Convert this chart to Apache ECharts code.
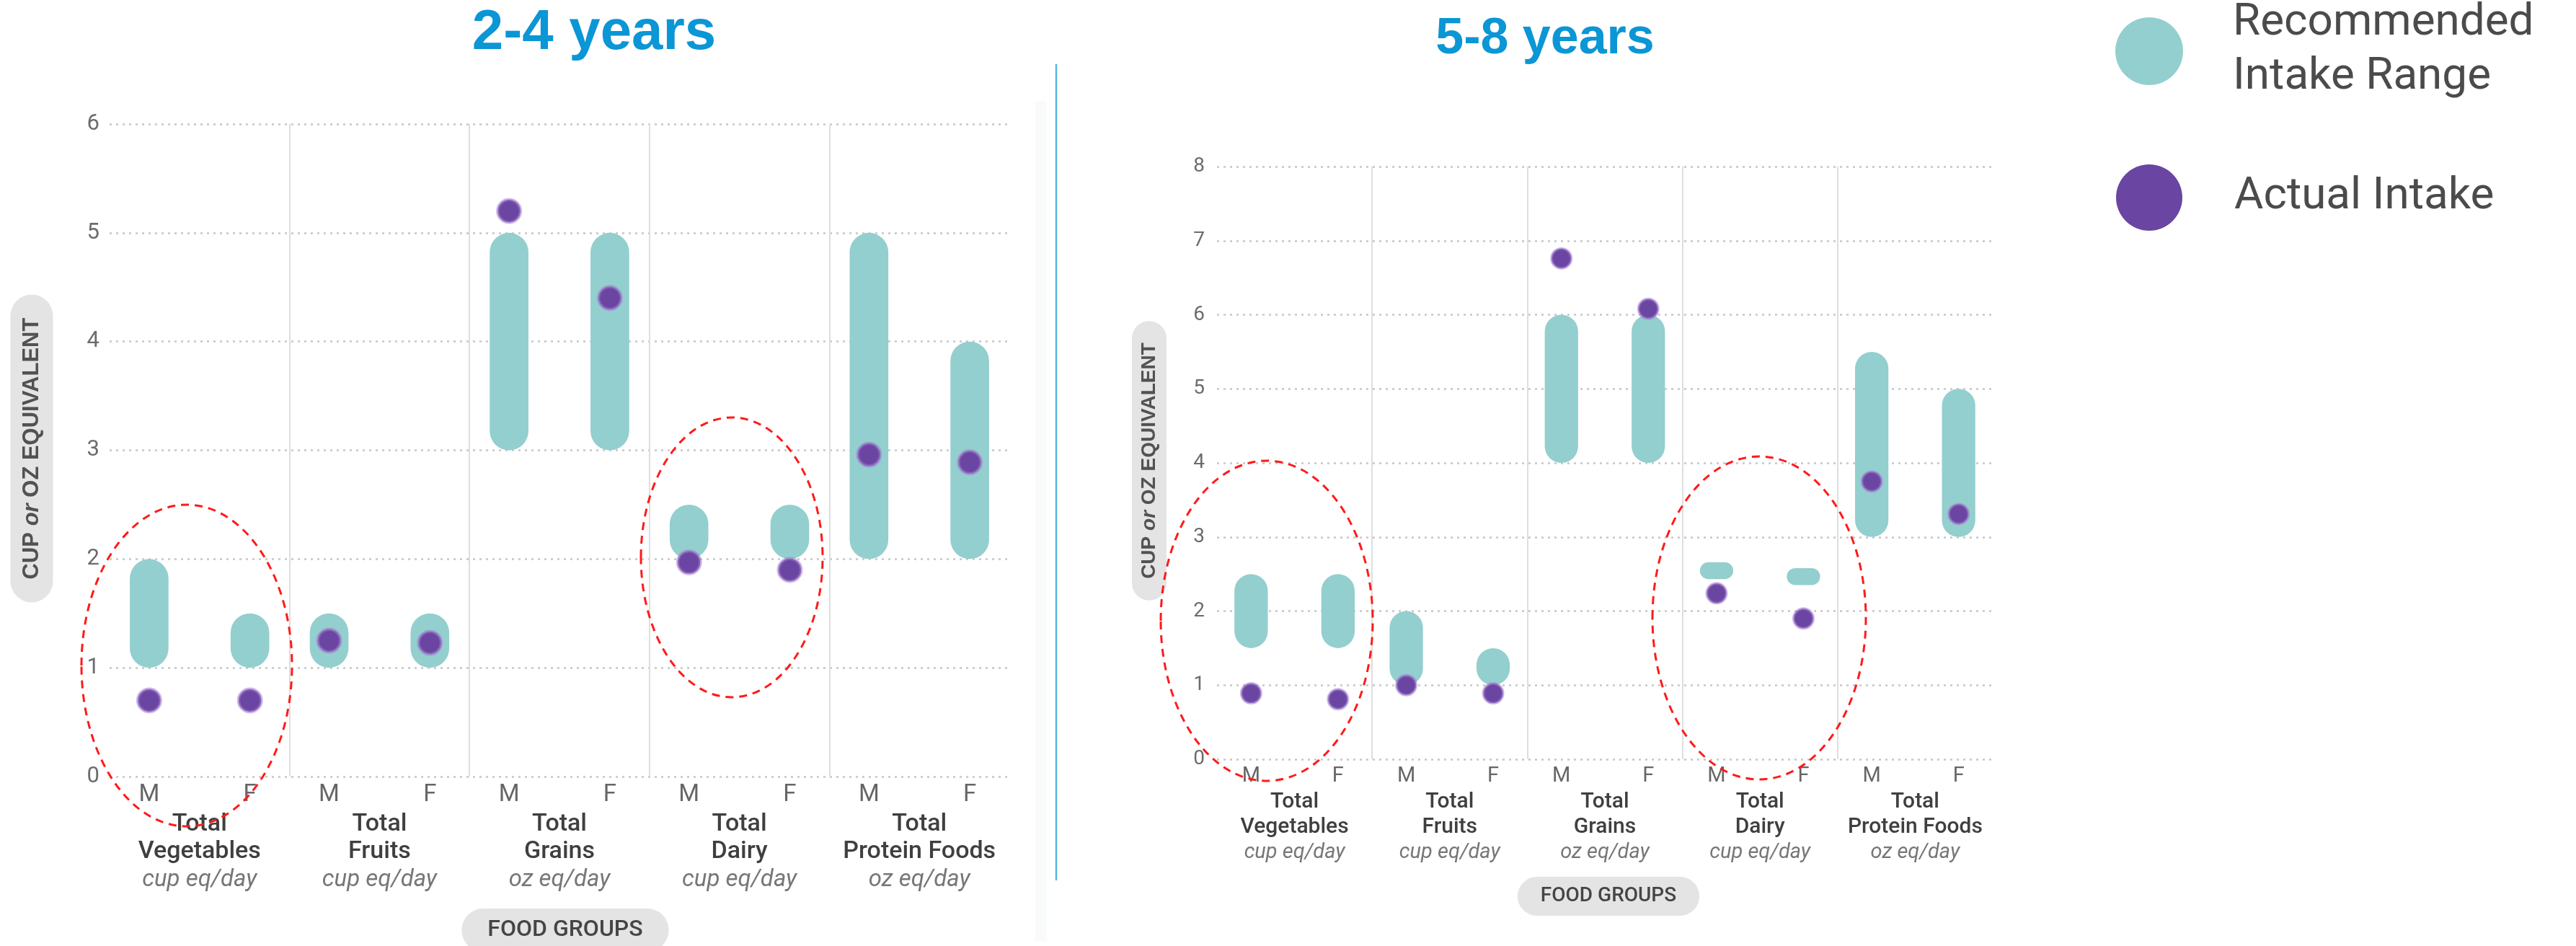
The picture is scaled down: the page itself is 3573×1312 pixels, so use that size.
<!DOCTYPE html>
<html>
<head>
<meta charset="utf-8">
<title>Recommended vs Actual Intake by Food Group</title>
<script src="https://cdn.jsdelivr.net/npm/echarts@6/dist/echarts.min.js"></script>
<style>
  html, body { margin: 0; padding: 0; background: #ffffff; }
  #chart { width: 3573px; height: 1312px; }
</style>
</head>
<body>
<div id="chart"></div>
<script>
// ---- data -------------------------------------------------------------
const foodGroups = ['Total\nVegetables', 'Total\nFruits', 'Total\nGrains', 'Total\nDairy', 'Total\nProtein Foods'];
const units = ['cup eq/day', 'cup eq/day', 'oz eq/day', 'cup eq/day', 'oz eq/day'];
const sexes = ['M', 'F'];

// 2-4 years: recommended range (low/high) and actual intake, per sex
const rec24LowM  = [1.0, 1.0, 3.0, 2.0, 2.0];
const rec24HighM = [2.0, 1.5, 5.0, 2.5, 5.0];
const rec24LowF  = [1.0, 1.0, 3.0, 2.0, 2.0];
const rec24HighF = [1.5, 1.5, 5.0, 2.5, 4.0];
const actual24M  = [0.70, 1.25, 5.20, 1.97, 2.96];
const actual24F  = [0.70, 1.23, 4.40, 1.90, 2.89];

// 5-8 years
const rec58LowM  = [1.5, 1.0, 4.0, 2.43, 3.0];
const rec58HighM = [2.5, 2.0, 6.0, 2.66, 5.5];
const rec58LowF  = [1.5, 1.0, 4.0, 2.35, 3.0];
const rec58HighF = [2.5, 1.5, 6.0, 2.58, 5.0];
const actual58M  = [0.89, 1.00, 6.76, 2.24, 3.75];
const actual58F  = [0.81, 0.89, 6.08, 1.90, 3.31];

const yTicks24 = [0, 1, 2, 3, 4, 5, 6];
const yTicks58 = [0, 1, 2, 3, 4, 5, 6, 7, 8];

// ---- styling ----------------------------------------------------------
const TEAL = '#93cfce';
const PURPLE = '#6a45a1';
const HALO = 'rgba(160, 120, 205, 0.55)';
const SEX_OFFSET = 0.28;   // M / F position from the group centre, in group widths
const BAR_WIDTH = 0.215;   // capsule width, in group widths
const DOT_R = 0.063;       // dot radius, in group widths

const panels = [
  {
    title: '2-4 years', ticks: yTicks24,
    low: [rec24LowM, rec24LowF], high: [rec24HighM, rec24HighF], actual: [actual24M, actual24F],
    grid: { left: 152, top: 172, width: 1248, height: 905 },
    fs: { tick: 31, sex: 33, group: 34, unit: 33, lh: 38.5, tickMargin: 14, sexMargin: 9, groupMargin: 47 }
  },
  {
    title: '5-8 years', ticks: yTicks58,
    low: [rec58LowM, rec58LowF], high: [rec58HighM, rec58HighF], actual: [actual58M, actual58F],
    grid: { left: 1688, top: 231, width: 1076, height: 822 },
    fs: { tick: 28, sex: 29, group: 30, unit: 29, lh: 35, tickMargin: 17, sexMargin: 9, groupMargin: 42 }
  }
];

function rangeRows(p) {
  const rows = [];
  foodGroups.forEach((g, i) => sexes.forEach((s, k) => rows.push([i, k, p.low[k][i], p.high[k][i]])));
  return rows;
}
function dotRows(p) {
  const rows = [];
  foodGroups.forEach((g, i) => sexes.forEach((s, k) => rows.push([i, k, p.actual[k][i]])));
  return rows;
}

function renderRange(params, api) {
  const band = api.size([1, 0])[0];
  const off = (api.value(1) === 0 ? -1 : 1) * band * SEX_OFFSET;
  const top = api.coord([api.value(0), api.value(3)]);
  const bot = api.coord([api.value(0), api.value(2)]);
  const w = band * BAR_WIDTH;
  const h = bot[1] - top[1];
  return {
    type: 'rect',
    shape: { x: top[0] + off - w / 2, y: top[1], width: w, height: h, r: Math.min(w / 2, h / 2) },
    style: { fill: TEAL }
  };
}

function renderDot(params, api) {
  const band = api.size([1, 0])[0];
  const off = (api.value(1) === 0 ? -1 : 1) * band * SEX_OFFSET;
  const c = api.coord([api.value(0), api.value(2)]);
  return {
    type: 'circle',
    shape: { cx: c[0] + off, cy: c[1], r: band * DOT_R },
    style: { fill: PURPLE, stroke: HALO, lineWidth: band * 0.018 }
  };
}

const grids = [], xAxes = [], yAxes = [], series = [];
panels.forEach((p, gi) => {
  grids.push(Object.assign({ containLabel: false }, p.grid));
  const sexPositions = [];
  foodGroups.forEach((g, i) => { sexPositions.push(i + 0.5 - SEX_OFFSET, i + 0.5 + SEX_OFFSET); });

  // food group names under each group
  xAxes.push({
    type: 'category', gridIndex: gi, position: 'bottom', data: foodGroups,
    axisLine: { show: false }, axisTick: { show: false }, splitLine: { show: false },
    axisLabel: {
      interval: 0, margin: p.fs.groupMargin,
      formatter: (v, idx) => v.split('\n').map(l => '{b|' + l + '}').join('\n') + '\n{i|' + units[idx] + '}',
      rich: {
        b: { fontFamily: 'Roboto', fontWeight: 500, fontSize: p.fs.group, color: '#3f3f3f', lineHeight: p.fs.lh },
        i: { fontFamily: 'Roboto', fontStyle: 'italic', fontSize: p.fs.unit, color: '#777777', lineHeight: p.fs.lh }
      }
    }
  });
  // M / F labels and the group dividers
  xAxes.push({
    type: 'value', gridIndex: gi, position: 'bottom', min: 0, max: foodGroups.length, interval: 1,
    axisLine: { show: false }, axisTick: { show: false },
    splitLine: { show: true, showMinLine: false, showMaxLine: false, lineStyle: { color: '#dedede', width: 2 } },
    axisLabel: {
      customValues: sexPositions, margin: p.fs.sexMargin,
      formatter: v => sexes[(v % 1) < 0.5 ? 0 : 1],
      fontFamily: 'Roboto', fontSize: p.fs.sex, color: '#666666'
    }
  });
  yAxes.push({
    type: 'value', gridIndex: gi, min: p.ticks[0], max: p.ticks[p.ticks.length - 1], interval: 1,
    axisLine: { show: false }, axisTick: { show: false },
    axisLabel: { fontFamily: 'Roboto', fontSize: p.fs.tick, color: '#6c6c6c', margin: p.fs.tickMargin },
    splitLine: { show: true, lineStyle: { color: '#c6c6c6', width: 2.5, type: [3, 6] } }
  });
  series.push({
    name: 'Recommended Intake Range', type: 'custom', xAxisIndex: gi * 2, yAxisIndex: gi,
    renderItem: renderRange, data: rangeRows(p), encode: { x: 0, y: [2, 3] }, z: 2
  });
  series.push({
    name: 'Actual Intake', type: 'custom', xAxisIndex: gi * 2, yAxisIndex: gi,
    renderItem: renderDot, data: dotRows(p), encode: { x: 0, y: 2 }, z: 3
  });
});

// ---- decorations: titles, axis captions, legend, highlights -----------
function pillText(x, y, text, rich, opts) {
  return Object.assign({
    type: 'text', x: x, y: y, z: 10,
    style: Object.assign({ text: text, rich: rich, align: 'center', verticalAlign: 'middle' }, opts.style)
  }, opts.el || {});
}
const yTitleRich = (fs) => ({
  b: { fontFamily: 'Liberation Sans', fontWeight: 'bold', fontSize: fs, fill: '#525252' },
  i: { fontFamily: 'Liberation Sans', fontWeight: 'bold', fontStyle: 'italic', fontSize: fs, fill: '#525252' }
});
const ellipse = (cx, cy, rx, ry) => ({
  type: 'ellipse', z: 20, shape: { cx: cx, cy: cy, rx: rx, ry: ry },
  style: { fill: null, stroke: '#ff1a1a', lineWidth: 3, lineDash: [11, 8] }
});

const graphic = [
  { type: 'text', x: 824, y: 46, style: { text: panels[0].title, font: 'bold 78px "Liberation Sans"', fill: '#0b96d5', align: 'center', verticalAlign: 'middle' } },
  { type: 'text', x: 2143, y: 55, style: { text: panels[1].title, font: 'bold 70px "Liberation Sans"', fill: '#0b96d5', align: 'center', verticalAlign: 'middle' } },
  // divider between the two panels
  { type: 'rect', shape: { x: 1436, y: 140, width: 16, height: 1165 }, style: { fill: '#f9fbfb' } },
  { type: 'line', shape: { x1: 1465, y1: 89, x2: 1465, y2: 1221 }, style: { stroke: '#56b4e6', lineWidth: 2.5 } },
  // y-axis captions
  pillText(44, 622, '{b|CUP }{i|or}{b| OZ EQUIVALENT}', yTitleRich(31), {
    style: { backgroundColor: '#e4e4e4', borderRadius: 30, padding: [14, 32, 14, 32] }, el: { rotation: Math.PI / 2 }
  }),
  pillText(1594, 639, '{b|CUP }{i|or}{b| OZ EQUIVALENT}', yTitleRich(28), {
    style: { backgroundColor: '#e4e4e4', borderRadius: 25, padding: [10, 30, 10, 30] }, el: { rotation: Math.PI / 2 }
  }),
  // x-axis captions
  pillText(784, 1290, '{t|FOOD GROUPS}', { t: { fontFamily: 'Roboto', fontWeight: 500, fontSize: 32, fill: '#454545' } }, {
    style: { backgroundColor: '#e4e4e4', borderRadius: 30, padding: [14, 36, 14, 36] }
  }),
  pillText(2231, 1243, '{t|FOOD GROUPS}', { t: { fontFamily: 'Roboto', fontWeight: 500, fontSize: 28, fill: '#454545' } }, {
    style: { backgroundColor: '#e4e4e4', borderRadius: 28, padding: [13, 32, 13, 32] }
  }),
  // highlighted groups
  ellipse(259, 923, 146, 223),
  ellipse(1015, 773, 126, 194),
  ellipse(1757, 861, 147, 222),
  ellipse(2440, 857, 148, 224),
  // legend
  { type: 'circle', shape: { cx: 2981, cy: 71, r: 47 }, style: { fill: TEAL } },
  { type: 'circle', shape: { cx: 2981, cy: 274, r: 46 }, style: { fill: PURPLE } },
  { type: 'text', x: 3097, y: 32, style: { text: 'Recommended', font: '62px Roboto', fill: '#4b4b4b', align: 'left', verticalAlign: 'middle' } },
  { type: 'text', x: 3097, y: 107, style: { text: 'Intake Range', font: '62px Roboto', fill: '#4b4b4b', align: 'left', verticalAlign: 'middle' } },
  { type: 'text', x: 3099, y: 273, style: { text: 'Actual Intake', font: '62px Roboto', fill: '#4b4b4b', align: 'left', verticalAlign: 'middle' } }
];

const chart = echarts.init(document.getElementById('chart'), null, { renderer: 'canvas' });
chart.setOption({
  backgroundColor: '#ffffff',
  animation: false,
  grid: grids,
  xAxis: xAxes,
  yAxis: yAxes,
  series: series,
  graphic: graphic
});
</script>
</body>
</html>
